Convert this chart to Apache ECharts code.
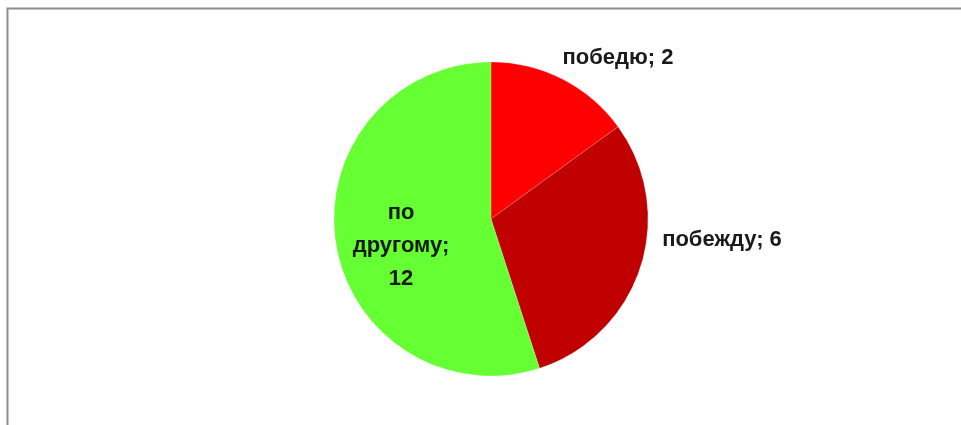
<!DOCTYPE html>
<html>
<head>
<meta charset="utf-8">
<script src="https://cdn.jsdelivr.net/npm/echarts@6/dist/echarts.min.js"></script>
<style>
html,body{margin:0;padding:0;background:#fff;}
#chart{width:961px;height:425px;}
</style>
</head>
<body>
<div id="chart"></div>
<script>
// Categories and the slice sizes as drawn (angles)
const categories = ['победю', 'побежду', 'по другому'];
const sliceValues = [3, 6, 11];
// Numbers printed in the data labels of the reference
const labelNumbers = [2, 6, 12];
const sliceColors = ['#FF0000', '#C00000', '#66FF33'];

const chart = echarts.init(document.getElementById('chart'), null, {renderer: 'canvas'});

const cx = 491, cy = 219, R = 157;
// label anchor offsets relative to pie centre
const labelOffsets = [
  {dx: 127, dy: -161},
  {dx: 231, dy: 21},
  {dx: -90, dy: 27}
];

const option = {
  animation: false,
  backgroundColor: '#ffffff',
  graphic: [{
    type: 'rect',
    shape: {x: 7.5, y: 8.5, width: 1000, height: 500},
    style: {fill: 'none', stroke: '#8c8c8c', lineWidth: 2},
    silent: true
  }],
  series: [{
    type: 'pie',
    center: [cx, cy],
    radius: [0, R],
    startAngle: 90,
    clockwise: true,
    avoidLabelOverlap: false,
    itemStyle: {borderColor: 'rgba(255,255,255,0.35)', borderWidth: 0.5},
    label: {
      show: true,
      position: 'inside',
      fontFamily: 'Liberation Sans, sans-serif',
      fontWeight: 'bold',
      fontSize: 22,
      color: '#1a1a1a',
      align: 'center',
      verticalAlign: 'middle'
    },
    labelLine: {show: false},
    labelLayout: function (params) {
      const o = labelOffsets[params.dataIndex];
      return {x: cx + o.dx, y: cy + o.dy, align: 'center', verticalAlign: 'middle'};
    },
    data: categories.map((c, i) => ({
      name: c,
      value: sliceValues[i],
      itemStyle: {color: sliceColors[i]},
      label: i === 2
        ? {formatter: 'по\nдругому;\n' + labelNumbers[i], lineHeight: 33, color: '#0f1a0f'}
        : {formatter: c + '; ' + labelNumbers[i]}
    }))
  }]
};
chart.setOption(option);
</script>
</body>
</html>
